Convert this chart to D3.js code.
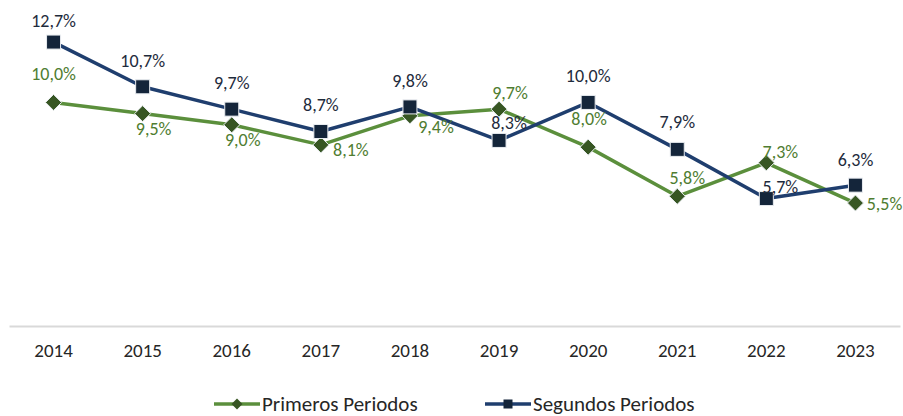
<!DOCTYPE html>
<html>
<head>
<meta charset="utf-8">
<script src="https://cdn.jsdelivr.net/npm/d3@7"></script>
<style>
  body { margin: 0; background: #fff; }
  svg { display: block; font-family: Carlito, Calibri, Lato, sans-serif; }
</style>
</head>
<body>
<div id="chart"></div>
<script>
// data
const years = ['2014', '2015', '2016', '2017', '2018', '2019', '2020', '2021', '2022', '2023'];
const primeros = [10.0, 9.5, 9.0, 8.1, 9.4, 9.7, 8.0, 5.8, 7.3, 5.5];
const segundos = [12.7, 10.7, 9.7, 8.7, 9.8, 8.3, 10.0, 7.9, 5.7, 6.3];
const seriesNames = ['Primeros Periodos', 'Segundos Periodos'];

// label offsets from each marker (dx, dy), as placed in the original
const primerosLabelOffset = [[0, -28], [11, 15], [11, 15], [30, 5], [26, 11], [11, -16], [1, -28], [10, -18], [14, -11], [29, 1]];
const segundosLabelOffset = [[0, -21], [0, -26], [0, -26], [0, -26], [0, -26], [10, -17], [0, -26], [0, -27], [14, -12], [0, -25]];

const width = 903, height = 416;
const fmt = v => v.toFixed(1).replace('.', ',') + '%';

const svg = d3.select('#chart')
    .append('svg')
    .attr('width', width)
    .attr('height', height);

const x = d3.scaleBand()
    .domain(years)
    .range([9, 900])
    .padding(0);

const y = d3.scaleLinear()
    .domain([0, 14])
    .range([326, 13]);

const cx = d => x(d) + x.bandwidth() / 2;

// x axis
const xAxis = svg.append('g')
    .attr('transform', `translate(0,${y(0)})`)
    .call(d3.axisBottom(x).tickSize(0).tickPadding(18));
xAxis.select('.domain').attr('stroke', '#d9d9d9').attr('stroke-width', 2);
xAxis.selectAll('text')
    .attr('font-size', 19)
    .attr('fill', '#262626')
    .style('font-family', 'Carlito, Calibri, Lato, sans-serif');

const series = [
    { name: seriesNames[0], values: primeros, line: '#5b8f3c', marker: '#375623', text: '#4f7d31', shape: 'diamond', off: primerosLabelOffset },
    { name: seriesNames[1], values: segundos, line: '#1f3e6e', marker: '#14253a', text: '#1e2b3c', shape: 'square', off: segundosLabelOffset }
];

const line = d3.line()
    .x((d, i) => cx(years[i]))
    .y(d => y(d));

function drawMarker(g, shape, size, fill, stroke) {
    if (shape === 'square') {
        g.append('rect')
            .attr('x', -size / 2).attr('y', -size / 2)
            .attr('width', size).attr('height', size)
            .attr('fill', fill)
            .attr('stroke', stroke).attr('stroke-width', 1);
    } else {
        const h = size / 2 + 1;
        g.append('path')
            .attr('d', `M0,${-h}L${h},0L0,${h}L${-h},0Z`)
            .attr('fill', fill)
            .attr('stroke', stroke).attr('stroke-width', 1);
    }
}

series.forEach(s => {
    svg.append('path')
        .datum(s.values)
        .attr('fill', 'none')
        .attr('stroke', s.line)
        .attr('stroke-width', 3.5)
        .attr('stroke-linejoin', 'round')
        .attr('d', line);
});

series.forEach(s => {
    s.values.forEach((v, i) => {
        const g = svg.append('g')
            .attr('transform', `translate(${cx(years[i])},${y(v)})`);
        drawMarker(g, s.shape, 14, s.marker, '#e8ecf0');
    });
});

series.forEach(s => {
    s.values.forEach((v, i) => {
        const o = s.off[i];
        svg.append('text')
            .attr('x', cx(years[i]) + o[0])
            .attr('y', y(v) + o[1])
            .attr('text-anchor', 'middle')
            .attr('dominant-baseline', 'central')
            .attr('font-size', 18)
            .attr('fill', s.text)
            .text(fmt(v));
    });
});

// legend
const legend = svg.append('g').attr('transform', 'translate(0,404)');
const legendX = [214, 485];
series.forEach((s, i) => {
    const g = legend.append('g').attr('transform', `translate(${legendX[i]},0)`);
    g.append('line')
        .attr('x1', 0).attr('x2', 46)
        .attr('stroke', s.line).attr('stroke-width', 3.5);
    const m = g.append('g').attr('transform', 'translate(23,0)');
    drawMarker(m, s.shape, 9, s.marker, 'none');
    g.append('text')
        .attr('x', 48)
        .attr('dominant-baseline', 'central')
        .attr('font-size', 21)
        .attr('fill', '#262626')
        .text(s.name);
});
</script>
</body>
</html>
